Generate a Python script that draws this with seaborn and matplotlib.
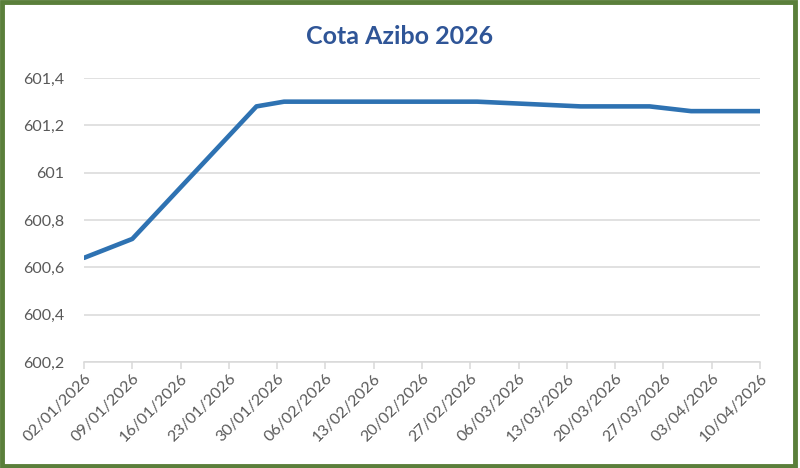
import matplotlib
matplotlib.use("Agg")
import matplotlib.pyplot as plt
import matplotlib.dates as mdates
from matplotlib.patches import Rectangle
from matplotlib.ticker import FuncFormatter, FixedLocator
import seaborn as sns
import pandas as pd

dates = ["2026-01-02", "2026-01-09", "2026-01-27", "2026-01-31", "2026-02-28",
         "2026-03-15", "2026-03-25", "2026-03-31", "2026-04-10"]
cota = [600.64, 600.72, 601.28, 601.30, 601.30, 601.28, 601.28, 601.26, 601.26]
tick_dates = pd.date_range("2026-01-02", "2026-04-10", freq="7D")
y_ticks = [600.2, 600.4, 600.6, 600.8, 601.0, 601.2, 601.4]
title = "Cota Azibo 2026"

df = pd.DataFrame({"data": pd.to_datetime(dates), "cota": cota})

sns.set_theme(style="white")
plt.rcParams["font.family"] = ["Lato", "DejaVu Sans"]

fig = plt.figure(figsize=(8, 4.68), dpi=100)
ax = fig.add_axes([84/800, 1 - 362/468, (760-84)/800, (362-78)/468])

sns.lineplot(data=df, x="data", y="cota", ax=ax, color="#2E72B2", linewidth=3.3,
             solid_capstyle="round", solid_joinstyle="round")

ax.set_xlim(tick_dates[0], tick_dates[-1])
ax.set_ylim(600.2, 601.4)
ax.yaxis.set_major_locator(FixedLocator(y_ticks))
ax.yaxis.set_major_formatter(FuncFormatter(
    lambda v, p: (f"{v:.1f}".rstrip("0").rstrip(".")).replace(".", ",")))
ax.xaxis.set_major_locator(FixedLocator(mdates.date2num(tick_dates)))
ax.xaxis.set_major_formatter(mdates.DateFormatter("%d/%m/%Y"))

ax.grid(axis="y", color="#D9D9D9", linewidth=1.1)
ax.set_axisbelow(True)
for s in ["top", "right", "left"]:
    ax.spines[s].set_visible(False)
ax.spines["bottom"].set_color("#D9D9D9")
ax.spines["bottom"].set_linewidth(1.1)

ax.tick_params(axis="x", which="major", bottom=True, length=5, width=1.1,
               color="#D9D9D9", labelsize=11.5, labelcolor="#595959", pad=2)
ax.tick_params(axis="y", left=False, labelsize=11.5, labelcolor="#595959", pad=8)
for lbl in ax.get_xticklabels():
    lbl.set_rotation(45)
    lbl.set_ha("right")
    lbl.set_rotation_mode("anchor")

ax.set_xlabel("")
ax.set_ylabel("")

fig.text(0.5, 1 - 37/468, title, ha="center", va="center", fontsize=18,
         fontweight="bold", color="#2F5597")

fig.patches.append(Rectangle((0.002, 0.004), 0.992, 0.992, transform=fig.transFigure,
                             fill=False, edgecolor="#5A7F3A", linewidth=3.5))

fig.savefig("out.png", dpi=100, facecolor="white")
